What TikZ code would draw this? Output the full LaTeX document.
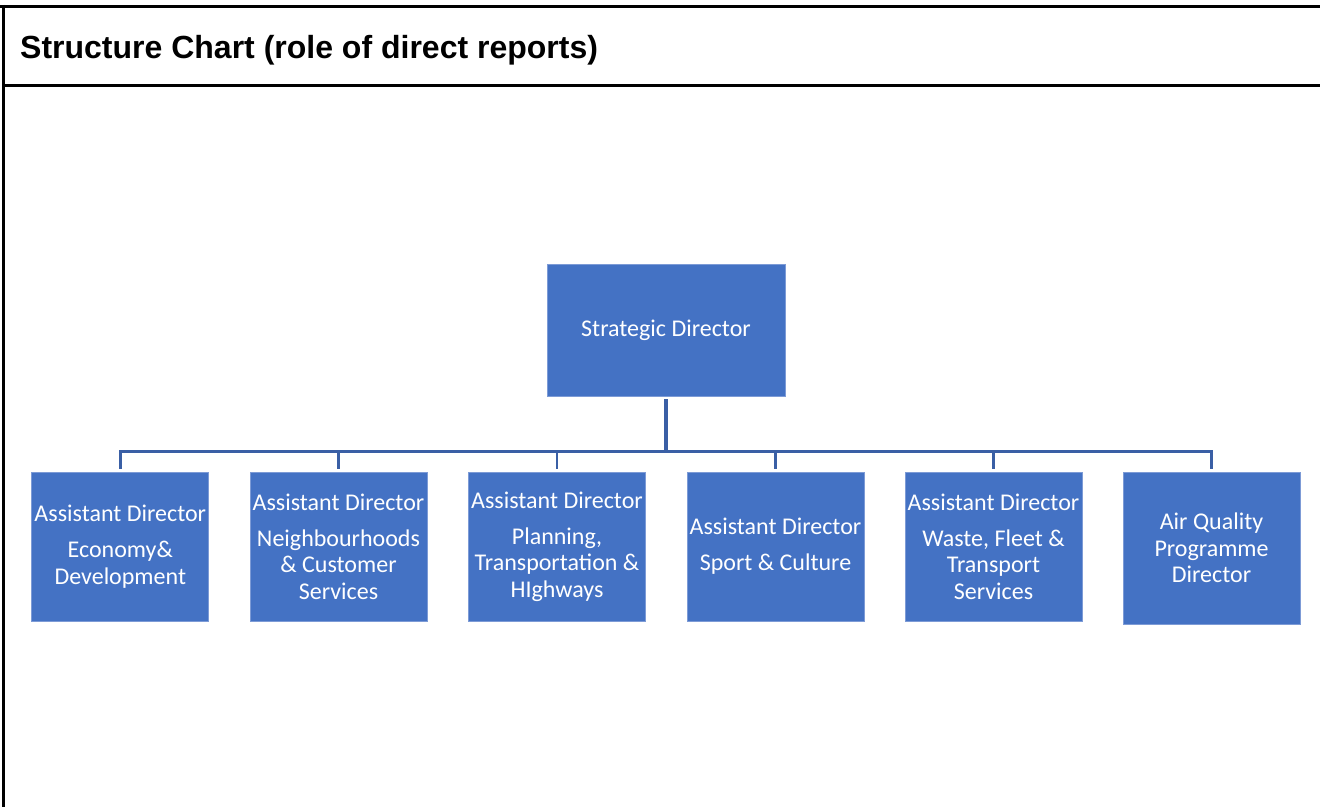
\documentclass[tikz,border=0pt]{standalone}
\usepackage{fontspec}
\setmainfont{Carlito}
\newfontfamily\titlefont{Liberation Sans}
\definecolor{boxblue}{RGB}{68,114,196}
\definecolor{boxedge}{RGB}{125,155,214}
\definecolor{linkblue}{RGB}{58,95,165}
\begin{document}
\begin{tikzpicture}[x=1pt,y=-1pt,
  box/.style={fill=boxblue, draw=boxedge, line width=0.8pt, minimum width=177pt, minimum height=149pt,
    inner sep=0pt, align=center, text=white, font=\fontsize{24}{26.3}\selectfont},
  link/.style={draw=linkblue, line width=2.7pt},
  frameline/.style={line width=3pt}]
\useasboundingbox (0,0) rectangle (1320,807);
\draw[frameline] (0,6.3) -- (1320,6.3);
\draw[frameline] (3.5,85.3) -- (1320,85.3);
\draw[frameline] (3.5,4.8) -- (3.5,807);
\node[anchor=base west, inner sep=0pt, font=\titlefont\bfseries\fontsize{32}{38}\selectfont] (title) at (20,58) {Structure Chart (role of direct reports)};

\node[box, minimum width=238pt, minimum height=132pt] (sd) at (666,330) {Strategic Director};

\node[box] (a1) at (120.3,546.5) {Assistant Director\\[10pt]Economy\&\\Development};
\node[box] (a2) at (338.5,546.5) {Assistant Director\\[10pt]Neighbourhoods\\\& Customer\\Services};
\node[box] (a3) at (557,546.5) {Assistant Director\\[10pt]Planning,\\Transportation \&\\HIghways};
\node[box] (a4) at (775.5,546.5) {Assistant Director\\[10pt]Sport \& Culture};
\node[box] (a5) at (993.5,546.5) {Assistant Director\\[10pt]Waste, Fleet \&\\Transport\\Services};
\node[box, minimum height=152pt] (a6) at (1211.5,548) {Air Quality\\Programme\\Director};

\coordinate (bus) at (666,451.6);
\draw[link, line width=3.6pt, shorten <=3pt] (sd.south) -- (sd.south |- bus);
\draw[link] ([yshift=2.5pt]a1.north) |- (bus) -| ([yshift=2.5pt]a6.north);
\foreach \n in {a2,a3,a4,a5}
  \draw[link] (\n.north |- bus) -- ([yshift=2.5pt]\n.north);
\end{tikzpicture}
\end{document}
